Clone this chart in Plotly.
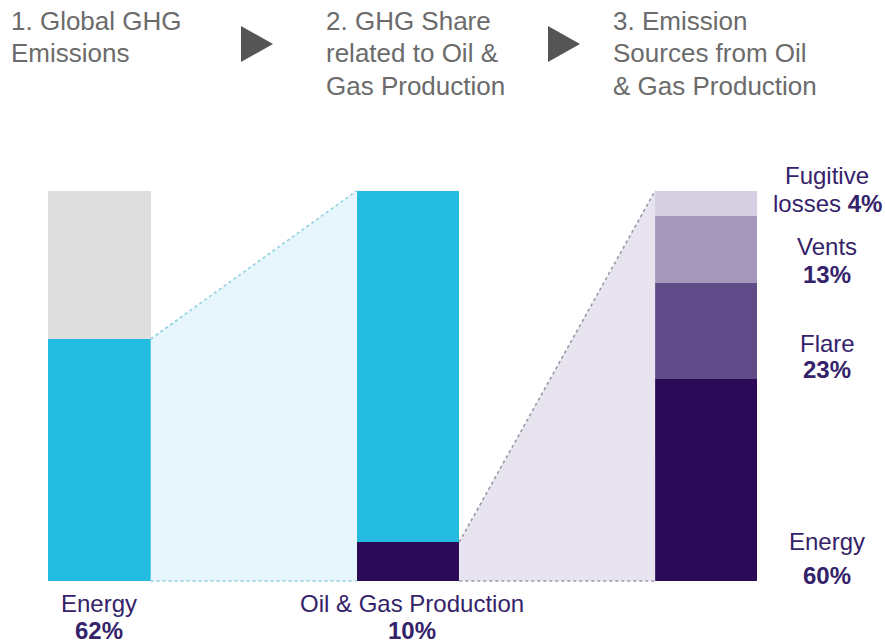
import plotly.graph_objects as go

# ---------------- data ----------------
global_cats = ["Energy", "Other sectors"]
global_vals = [62, 38]

share_cats = ["Oil & Gas Production", "Other energy"]
share_vals = [10, 90]

source_cats = ["Energy", "Flare", "Vents", "Fugitive losses"]
source_drawn = [51.7, 24.7, 17.1, 6.5]      # segment heights as drawn
source_pct = [60, 23, 13, 4]                 # percentages as labelled

titles = [
    ["1. Global GHG", "Emissions"],
    ["2. GHG Share", "related to Oil &", "Gas Production"],
    ["3. Emission", "Sources from Oil", "& Gas Production"],
]

# ---------------- layout constants ----------------
W, H = 885, 644
BAR_X = [99.4, 408.0, 706.0]
BAR_W = [102.6, 102.6, 101.7]
Y0_PX, Y100_PX = 581.0, 190.7
PPU = (Y0_PX - Y100_PX) / 100.0
YR = [(Y0_PX - H) / PPU, Y0_PX / PPU]

GREY = "#dedede"
CYAN = "#24bbe0"
CYAN_FILL = "#e6f6fc"
CYAN_DOT = "#8fd0de"
PURPLES = ["#2b0a57", "#604c88", "#a598bd", "#d5cfe1"]
LAV_FILL = "#e8e4ef"
LAV_DOT = "#9a96a6"
LABEL = "#34226a"
TITLE = "#6b6b6b"
FONT = "Liberation Sans, Arial, sans-serif"

fig = go.Figure()


def stack(xc, w, vals, colors, names):
    base = 0
    for v, c, n in zip(vals, colors, names):
        fig.add_trace(go.Bar(x=[xc], y=[v], base=[base], width=[w],
                             marker=dict(color=c, line=dict(width=0)),
                             name=n, showlegend=False))
        base += v


# connectors (drawn first, below bars)
l1 = BAR_X[0] + BAR_W[0] / 2
r1 = BAR_X[1] - BAR_W[1] / 2
top_left = global_vals[0]
top_right = sum(share_vals)
fig.add_trace(go.Scatter(x=[l1, r1, r1, l1, l1], y=[top_left, top_right, 0, 0, top_left],
                         fill="toself", fillcolor=CYAN_FILL, mode="none",
                         showlegend=False, hoverinfo="skip"))
fig.add_trace(go.Scatter(x=[l1, r1], y=[top_left, top_right], mode="lines",
                         line=dict(color=CYAN_DOT, width=1.6, dash="dot"),
                         showlegend=False, hoverinfo="skip"))
fig.add_trace(go.Scatter(x=[l1, r1], y=[0, 0], mode="lines",
                         line=dict(color=CYAN_DOT, width=1.6, dash="dot"),
                         showlegend=False, hoverinfo="skip"))

l2 = BAR_X[1] + BAR_W[1] / 2
r2 = BAR_X[2] - BAR_W[2] / 2
t2l = share_vals[0]
t2r = sum(source_drawn)
fig.add_trace(go.Scatter(x=[l2, r2, r2, l2, l2], y=[t2l, t2r, 0, 0, t2l],
                         fill="toself", fillcolor=LAV_FILL, mode="none",
                         showlegend=False, hoverinfo="skip"))
fig.add_trace(go.Scatter(x=[l2, r2], y=[t2l, t2r], mode="lines",
                         line=dict(color=LAV_DOT, width=1.6, dash="dot"),
                         showlegend=False, hoverinfo="skip"))
fig.add_trace(go.Scatter(x=[l2, r2], y=[0, 0], mode="lines",
                         line=dict(color=LAV_DOT, width=1.6, dash="dot"),
                         showlegend=False, hoverinfo="skip"))

stack(BAR_X[0], BAR_W[0], global_vals, [CYAN, GREY], global_cats)
stack(BAR_X[1], BAR_W[1], share_vals, [PURPLES[0], CYAN], share_cats)
stack(BAR_X[2], BAR_W[2], source_drawn, PURPLES, source_cats)

ann = []


def px2p(x, y):
    return x / W, 1 - y / H


# titles
title_x = [9, 324, 611]
line_y = [21, 53, 86]
for tx, lines in zip(title_x, titles):
    for ly, t in zip(line_y, lines):
        px, py = px2p(tx, ly)
        ann.append(dict(x=px, y=py, xref="paper", yref="paper", text=t,
                        xanchor="left", yanchor="middle", showarrow=False,
                        font=dict(family=FONT, size=26, color=TITLE)))

# arrows
shapes = []
for ax0 in [241, 548]:
    x0, y0 = px2p(ax0, 26)
    x1, y1 = px2p(ax0 + 32, 44)
    x2, y2 = px2p(ax0, 62)
    shapes.append(dict(type="path", xref="paper", yref="paper",
                       path=f"M {x0} {y0} L {x1} {y1} L {x2} {y2} Z",
                       fillcolor="#555555", line=dict(width=0)))

LS = 24


def label(xpx, ypx, text):
    px, py = px2p(xpx, ypx)
    ann.append(dict(x=px, y=py, xref="paper", yref="paper", text=text,
                    xanchor="center", yanchor="middle", showarrow=False,
                    font=dict(family=FONT, size=LS, color=LABEL)))


# bottom labels
label(BAR_X[0], 603, global_cats[0])
label(BAR_X[0], 630, f"<b>{global_vals[0]}%</b>")
label(BAR_X[1] + 4, 603, share_cats[0])
label(BAR_X[1] + 4, 630, f"<b>{share_vals[0]}%</b>")

# right labels
RX = 827
label(RX, 175, "Fugitive")
label(RX, 203, f"losses <b>{source_pct[3]}%</b>")
label(RX, 246, source_cats[2])
label(RX, 274, f"<b>{source_pct[2]}%</b>")
label(RX, 343, source_cats[1])
label(RX, 369, f"<b>{source_pct[1]}%</b>")
label(RX, 541, source_cats[0])
label(RX, 575, f"<b>{source_pct[0]}%</b>")

fig.update_layout(
    width=W, height=H,
    margin=dict(l=0, r=0, t=0, b=0),
    paper_bgcolor="white", plot_bgcolor="white",
    barmode="overlay", bargap=0,
    xaxis=dict(range=[0, W], visible=False, fixedrange=True),
    yaxis=dict(range=YR, visible=False, fixedrange=True),
    annotations=ann, shapes=shapes,
    showlegend=False,
)

fig.write_html("out.html", config={"displayModeBar": False},
               post_script="document.body.style.margin='0';document.body.style.overflow='hidden';")
